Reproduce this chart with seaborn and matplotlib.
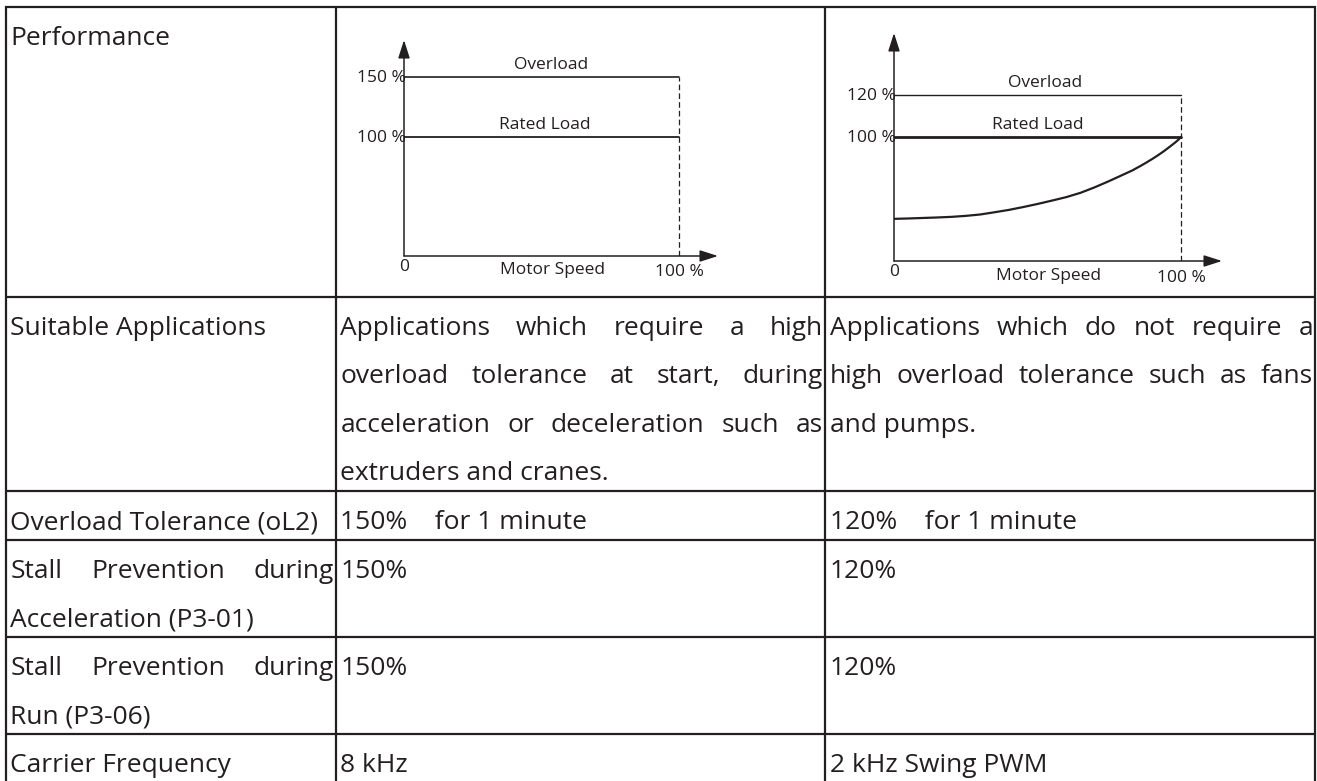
import numpy as np
import pandas as pd
import matplotlib
matplotlib.use("Agg")
import matplotlib.pyplot as plt
import seaborn as sns
from matplotlib.font_manager import FontProperties

# ---- sketch data ----
speed_span = [0, 100]                 # motor speed, %
ct_levels = [150, 100]                # constant torque: overload, rated load
vt_levels = [120, 100]                # variable torque: overload, rated load
vt_levels_drawn = [134, 100]          # VT sketch is not to scale
level_names = ["Overload", "Rated Load"]
vt_curve_speed = [0, 5, 10, 15, 20, 25, 30, 35, 40, 45, 50, 55, 60, 65, 70, 75,
                  80, 83, 86, 88, 90, 92, 94, 96, 97, 98, 99, 100]
vt_curve_load = [34, 34.3, 34.7, 35.1, 35.6, 36.4, 37.5, 39.3, 41.2, 43.5, 46, 48.7,
                 51.5, 55, 59.5, 64.5, 69.8, 73, 76.8, 79.5, 82.3, 85.3, 88.5, 92,
                 93.8, 95.6, 97.6, 100]

# ---- table text ----
row_heads = [
    ["Performance"],
    ["Suitable Applications"],
    ["Overload Tolerance (oL2)"],
    ["Stall Prevention during", "Acceleration (P3-01)"],
    ["Stall Prevention during", "Run (P3-06)"],
    ["Carrier Frequency"],
]
ct_cells = [
    [],
    ["Applications which require a high", "overload tolerance at start, during",
     "acceleration or deceleration such as", "extruders and cranes."],
    ["150%    for 1 minute"],
    ["150%"],
    ["150%"],
    ["8 kHz"],
]
vt_cells = [
    [],
    ["Applications which do not require a", "high overload tolerance such as fans",
     "and pumps."],
    ["120%    for 1 minute"],
    ["120%"],
    ["120%"],
    ["2 kHz Swing PWM"],
]

# ---- layout (pixels) ----
W, H = 1317, 781
col_edges = [5.5, 335.5, 825, 1315]
row_tops = [7, 297, 491, 540, 637, 734]
line_step = 48.4
base_off = 38
pad_l, pad_r = 5, 2
ink = "#231f20"

sns.set_theme(style="white")
plt.rcParams["font.family"] = ["Open Sans", "DejaVu Sans"]

fig = plt.figure(figsize=(W / 100, H / 100), dpi=100)
tab = fig.add_axes([0, 0, 1, 1])
tab.set_xlim(0, W)
tab.set_ylim(H, 0)
tab.axis("off")

# grid lines
for y in row_tops:
    tab.plot([col_edges[0] - 1, col_edges[-1] + 1], [y, y], color=ink, lw=1.6, solid_capstyle="butt")
for x in col_edges:
    tab.plot([x, x], [row_tops[0] - 1, H], color=ink, lw=1.6, solid_capstyle="butt")

fp = FontProperties(family=["Open Sans"], size=19)
renderer = fig.canvas.get_renderer()


def text_w(s):
    t = tab.text(0, 0, s, fontproperties=fp)
    w = t.get_window_extent(renderer).width
    t.remove()
    return w


def draw_cell(lines, col, top):
    x0 = col_edges[col] + pad_l
    x1 = col_edges[col + 1] - pad_r
    for i, line in enumerate(lines):
        y = top + base_off + i * line_step
        words = line.split(" ")
        last = i == len(lines) - 1
        if last or len(words) < 2:
            tab.text(x0, y, line, fontproperties=fp, color=ink, va="baseline", ha="left")
            continue
        # justified line: spread the words over the full cell width
        widths = [text_w(w) for w in words]
        gap = (x1 - x0 - sum(widths)) / (len(words) - 1)
        x = x0
        for w, ww in zip(words, widths):
            tab.text(x, y, w, fontproperties=fp, color=ink, va="baseline", ha="left")
            x += ww + gap


for r, top in enumerate(row_tops):
    draw_cell(row_heads[r], 0, top)
    draw_cell(ct_cells[r], 1, top)
    draw_cell(vt_cells[r], 2, top)

# ---- the two load sketches ----
small = 12.5


def px_off(dx, dy):
    return (dx * 0.72, dy * 0.72)


def sketch(ax_px, xmax, ymax, levels, drawn, lw_pair, label_x, below_dy):
    left, right, top, bottom = ax_px
    ax = fig.add_axes([left / W, 1 - bottom / H, (right - left) / W, (bottom - top) / H])
    ax.set_xlim(0, xmax)
    ax.set_ylim(0, ymax)
    ax.axis("off")
    ax.patch.set_alpha(0)
    arrow = dict(arrowstyle="-|>,head_length=1.0,head_width=0.32", color=ink,
                 lw=1.1, mutation_scale=11, shrinkA=0, shrinkB=0)
    ax.annotate("", xy=(xmax, 0), xytext=(0, 0), arrowprops=arrow, annotation_clip=False)
    ax.annotate("", xy=(0, ymax), xytext=(0, 0), arrowprops=arrow, annotation_clip=False)
    df = pd.DataFrame({"speed": speed_span * len(drawn),
                       "load": [v for v in drawn for _ in speed_span],
                       "name": [n for n in level_names for _ in speed_span]})
    for name, lw in zip(level_names, lw_pair):
        sub = df[df["name"] == name]
        sns.lineplot(data=sub, x="speed", y="load", ax=ax, color=ink, lw=lw, legend=False)
    ax.vlines(100, 0, max(drawn), colors=ink, lw=0.9, linestyles=(0, (4.5, 2.5)))
    for lab, pos in zip(levels, drawn):
        ax.annotate(f"{lab} %", xy=(0, pos), xytext=px_off(2, -1), textcoords="offset points",
                    ha="right", va="center", fontsize=small, color=ink)
    for name, lvl, lx in zip(level_names, drawn, label_x):
        ax.annotate(name, xy=(lx, lvl), xytext=px_off(0, 12), textcoords="offset points",
                    ha="center", va="center", fontsize=small, color=ink)
    ax.annotate("0", xy=(0, 0), xytext=px_off(0, -11), textcoords="offset points",
                ha="center", va="center", fontsize=small, color=ink)
    ax.annotate("Motor Speed", xy=(54, 0), xytext=px_off(0, -below_dy), textcoords="offset points",
                ha="center", va="center", fontsize=small, color=ink)
    ax.annotate("100 %", xy=(100, 0), xytext=px_off(0, -below_dy - 2), textcoords="offset points",
                ha="center", va="center", fontsize=small, color=ink)
    return ax


ax1 = sketch((404, 718, 40, 256), 114.2, 181.5, ct_levels, ct_levels, (1.2, 1.3), (53.5, 51.3), 14)
ax2 = sketch((894, 1222, 33, 261), 114.3, 183.9, vt_levels, vt_levels_drawn, (1.0, 2.0), (52.6, 50.2), 15)
sns.lineplot(x=vt_curve_speed, y=vt_curve_load, ax=ax2, color=ink, lw=1.6, legend=False)

fig.savefig("out.png", dpi=100, facecolor="white")
